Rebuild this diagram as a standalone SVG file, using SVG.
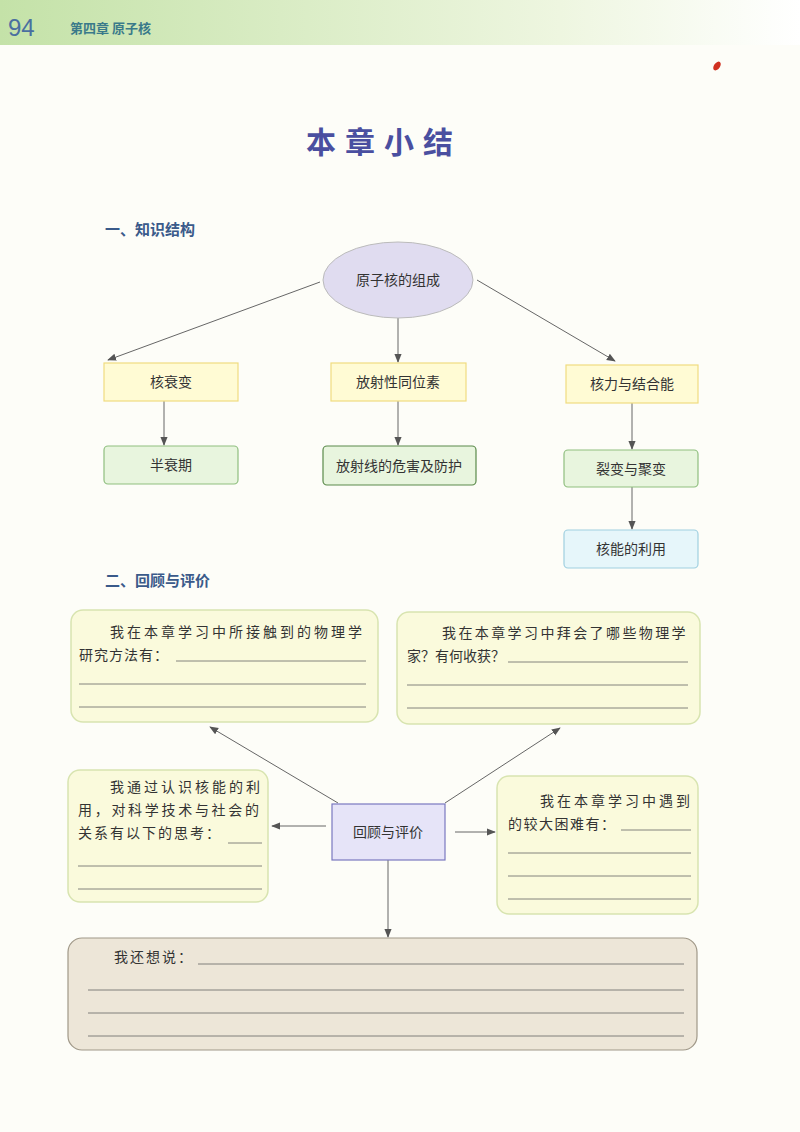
<svg xmlns="http://www.w3.org/2000/svg" width="800" height="1132" viewBox="0 0 800 1132">
<defs>
<linearGradient id="hdr" x1="0" x2="1" y1="0" y2="0"><stop offset="0" stop-color="#c4e2a8"/><stop offset="0.7" stop-color="#eef6e0"/><stop offset="1" stop-color="#ffffff"/></linearGradient>
<marker id="ah" viewBox="0 0 10 10" refX="9" refY="5" markerWidth="9" markerHeight="9" orient="auto" markerUnits="userSpaceOnUse"><path d="M0,1 L10,5 L0,9 z" fill="#555"/></marker>
</defs>
<style>
text{font-family:"Noto Sans CJK SC","Liberation Sans",sans-serif;fill:#333}
.n{font-size:14px;text-anchor:middle;font-family:"Noto Sans CJK SC",serif}
.s{font-size:14px;font-family:"Noto Sans CJK SC",serif;letter-spacing:3px}
.y{fill:#fffbd4;stroke:#f0dc80;stroke-width:1.2}
.g{fill:#e8f5de;stroke:#8fbf7f;stroke-width:1.2}
.q{fill:#fafadc;stroke:#d8e4b0;stroke-width:1.5}
.ln{stroke:#666;stroke-width:0.8}
.c line{stroke:#666;stroke-width:1;marker-end:url(#ah)}
.h{font-size:15px;font-weight:bold;fill:#3a5a8a}
</style>
<rect width="800" height="1132" fill="#fdfdf8"/>
<rect width="800" height="45" fill="url(#hdr)"/>
<text x="8" y="36" font-size="24" fill="#4a6fa0" style="fill:#4a6fa0;font-family:'Liberation Sans',sans-serif">94</text>
<text x="70" y="33" font-size="13" style="fill:#3a7a8a;font-weight:bold">第四章  原子核</text>
<ellipse cx="717" cy="66" rx="3" ry="5" fill="#d03020" transform="rotate(35 717 66)"/>
<text x="384" y="153" font-size="30" text-anchor="middle" letter-spacing="9" style="fill:#4a4fa0;font-weight:bold">本章小结</text>
<text x="105" y="235" class="h">一、知识结构</text>
<text x="105" y="586" class="h">二、回顾与评价</text>

<g class="c">
<line x1="320" y1="282" x2="108" y2="360"/>
<line x1="398" y1="318" x2="398" y2="362"/>
<line x1="477" y1="280" x2="615" y2="361"/>
<line x1="164" y1="401" x2="164" y2="445"/>
<line x1="398" y1="401" x2="398" y2="445"/>
<line x1="632" y1="403" x2="632" y2="449"/>
<line x1="632" y1="487" x2="632" y2="529"/>
<line x1="338" y1="803" x2="210" y2="727"/>
<line x1="445" y1="803" x2="560" y2="728"/>
<line x1="326" y1="826" x2="272" y2="826"/>
<line x1="455" y1="832" x2="495" y2="832"/>
<line x1="388" y1="860" x2="388" y2="937"/>
</g>

<g id="n-root"><ellipse cx="398" cy="280" rx="75" ry="38" fill="#e0dcf0" stroke="#bbb"/><text x="398" y="285" class="n">原子核的组成</text></g>
<g id="n-decay"><rect x="104" y="363" width="134" height="38" class="y"/><text x="171" y="387" class="n">核衰变</text></g>
<g id="n-iso"><rect x="331" y="363" width="135" height="38" class="y"/><text x="398" y="387" class="n">放射性同位素</text></g>
<g id="n-force"><rect x="566" y="365" width="132" height="38" class="y"/><text x="632" y="389" class="n">核力与结合能</text></g>
<g id="n-half"><rect x="104" y="446" width="134" height="38" rx="4" class="g"/><text x="171" y="470" class="n">半衰期</text></g>
<g id="n-rad"><rect x="323" y="446" width="153" height="39" rx="4" class="g" style="stroke:#5a8a4a"/><text x="399" y="471" class="n">放射线的危害及防护</text></g>
<g id="n-fis"><rect x="564" y="450" width="134" height="37" rx="4" class="g"/><text x="631" y="474" class="n">裂变与聚变</text></g>
<g id="n-use"><rect x="564" y="530" width="134" height="38" rx="4" fill="#e6f6fa" stroke="#a0d0e0" stroke-width="1.2"/><text x="631" y="554" class="n">核能的利用</text></g>

<g id="n-review"><rect x="332" y="804" width="113" height="56" fill="#e6e4f8" stroke="#7a78c0" stroke-width="1.2"/><text x="388" y="837" class="n">回顾与评价</text></g>

<g id="n-tl"><rect x="71" y="610" width="307" height="112" rx="12" class="q"/>
<text x="110" y="637" class="s">我在本章学习中所接触到的物理学</text>
<text x="79" y="660" class="s" style="letter-spacing:1px">研究方法有：</text>
<line x1="176" y1="661" x2="366" y2="661" class="ln"/><line x1="79" y1="684" x2="366" y2="684" class="ln"/><line x1="79" y1="707" x2="366" y2="707" class="ln"/></g>
<g id="n-tr"><rect x="397" y="612" width="303" height="112" rx="12" class="q"/>
<text x="442" y="638" class="s" style="letter-spacing:2.4px">我在本章学习中拜会了哪些物理学</text>
<text x="407" y="661" class="s" style="letter-spacing:0px">家？有何收获？</text>
<line x1="508" y1="662" x2="688" y2="662" class="ln"/><line x1="407" y1="685" x2="688" y2="685" class="ln"/><line x1="407" y1="708" x2="688" y2="708" class="ln"/></g>
<g id="n-ml"><rect x="68" y="770" width="200" height="132" rx="12" class="q"/>
<text x="110" y="792" class="s">我通过认识核能的利</text>
<text x="78" y="815" class="s" style="letter-spacing:2.7px">用，对科学技术与社会的</text>
<text x="78" y="838" class="s" style="letter-spacing:2px">关系有以下的思考：</text>
<line x1="228" y1="843" x2="262" y2="843" class="ln"/><line x1="78" y1="866" x2="262" y2="866" class="ln"/><line x1="78" y1="889" x2="262" y2="889" class="ln"/></g>
<g id="n-mr"><rect x="497" y="776" width="201" height="138" rx="12" class="q"/>
<text x="540" y="806" class="s">我在本章学习中遇到</text>
<text x="508" y="829" class="s" style="letter-spacing:1.5px">的较大困难有：</text>
<line x1="621" y1="830" x2="691" y2="830" class="ln"/><line x1="508" y1="853" x2="691" y2="853" class="ln"/><line x1="508" y1="876" x2="691" y2="876" class="ln"/><line x1="508" y1="899" x2="691" y2="899" class="ln"/></g>
<g id="n-bottom"><rect x="68" y="938" width="629" height="112" rx="14" fill="#ede6d8" stroke="#a09888" stroke-width="1.2"/>
<text x="114" y="962" class="s" style="letter-spacing:2px">我还想说：</text>
<line x1="198" y1="964" x2="684" y2="964" class="ln"/><line x1="88" y1="990" x2="684" y2="990" class="ln"/><line x1="88" y1="1013" x2="684" y2="1013" class="ln"/><line x1="88" y1="1036" x2="684" y2="1036" class="ln"/></g>
</svg>
